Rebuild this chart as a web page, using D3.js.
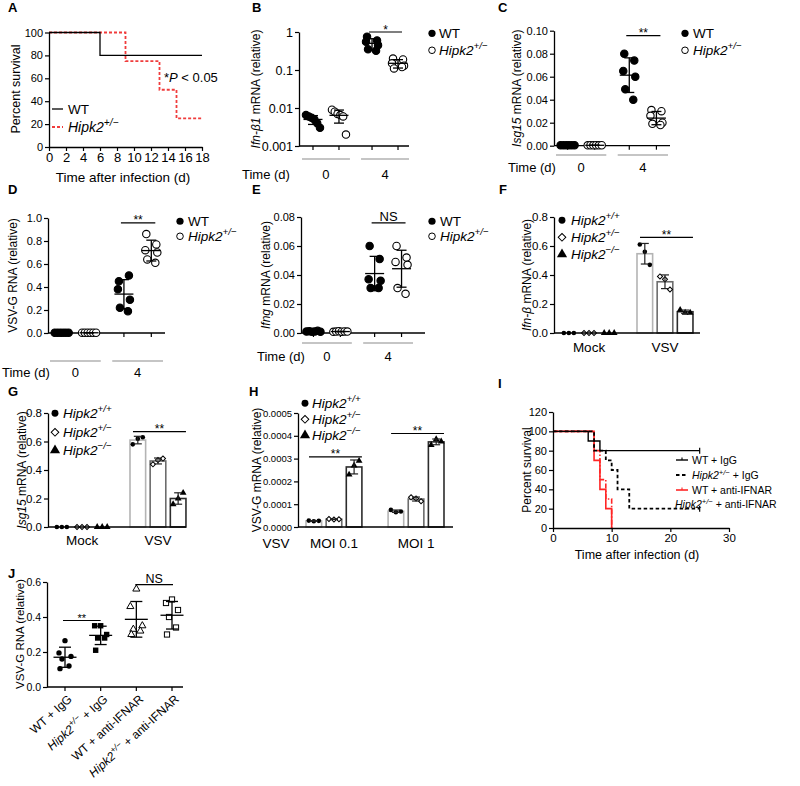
<!DOCTYPE html>
<html><head><meta charset="utf-8">
<script src="https://cdn.jsdelivr.net/npm/d3@7"></script>
<style>
body{margin:0;background:#fff;}
svg text{font-family:"Liberation Sans",Arial,Helvetica,sans-serif;fill:#000;}
</style></head><body>
<svg id="fig" width="800" height="786"></svg>
<script>
// ---------------- DATA ----------------
// Panel A: survival (step points)
const aWT_t = [0, 6, 18];
const aWT_s = [100, 80, 80];
const aHet_t = [0, 9, 13, 15, 18];
const aHet_s = [100, 75, 50, 25, 25];
const aXTicks = [0,2,4,6,8,10,12,14,16,18];
const aYTicks = [0,20,40,60,80,100];

// Shared for B–E
const timeLabels = ["0", "4"];
const genotypes = ["WT", "Hipk2+/−"];

// Panel B: Ifn-β1 mRNA (log)
const bWT_d0 = [0.0065, 0.006, 0.0055, 0.005, 0.004, 0.003];
const bHet_d0 = [0.009, 0.008, 0.007, 0.0065, 0.006, 0.002];
const bWT_d4 = [0.75, 0.6, 0.55, 0.45, 0.35, 0.32];
const bHet_d4 = [0.2, 0.19, 0.15, 0.13, 0.11, 0.12];
const bYTicks = [0.001, 0.01, 0.1, 1];

// Panel C: Isg15 mRNA
const cWT_d0 = [0.0004, 0.0003, 0.0005, 0.0004, 0.0003, 0.0004];
const cHet_d0 = [0.0003, 0.0004, 0.0003, 0.0004, 0.0003, 0.0004];
const cWT_d4 = [0.080, 0.074, 0.065, 0.060, 0.049, 0.040];
const cHet_d4 = [0.031, 0.030, 0.026, 0.020, 0.019, 0.018];
const cYTicks = [0, 0.02, 0.04, 0.06, 0.08, 0.10];

// Panel D: VSV-G RNA
const dWT_d0 = [0.002, 0.002, 0.002, 0.002, 0.002, 0.002];
const dHet_d0 = [0.002, 0.002, 0.002, 0.002, 0.002, 0.002];
const dWT_d4 = [0.45, 0.50, 0.38, 0.29, 0.22, 0.19];
const dHet_d4 = [0.86, 0.77, 0.72, 0.70, 0.64, 0.61];
const dYTicks = [0, 0.2, 0.4, 0.6, 0.8, 1.0];

// Panel E: Ifng mRNA
const eWT_d0 = [0.001, 0.0012, 0.0008, 0.001, 0.0015, 0.0009];
const eHet_d0 = [0.0008, 0.001, 0.0012, 0.0009, 0.0011, 0.001];
const eWT_d4 = [0.060, 0.051, 0.037, 0.036, 0.031, 0.031];
const eHet_d4 = [0.060, 0.052, 0.049, 0.047, 0.031, 0.027];
const eYTicks = [0, 0.02, 0.04, 0.06, 0.08];

// Shared for F–H
const genos3 = ["Hipk2+/+", "Hipk2+/−", "Hipk2−/−"];
const infection = ["Mock", "VSV"];

// Panel F: Ifn-β mRNA
const fMock = [[0,0,0],[0,0,0],[0,0,0]];
const fVSV = [[0.61,0.56,0.47],[0.39,0.37,0.30],[0.16,0.14,0.14]];
const fYTicks = [0, 0.2, 0.4, 0.6, 0.8];

// Panel G: Isg15 mRNA
const gMock = [[0,0,0],[0,0,0],[0,0,0]];
const gVSV = [[0.58,0.62,0.63],[0.44,0.47,0.48],[0.16,0.20,0.24]];
const gYTicks = [0, 0.2, 0.4, 0.6, 0.8];

// Panel H: VSV-G mRNA
const moiLabels = ["MOI 0.1", "MOI 1"];
const hMOI01 = [[0.000028,0.000025,0.000027],[0.000035,0.000033,0.000034],[0.00023,0.00027,0.00029]];
const hMOI1 = [[0.000075,0.000065,0.000068],[0.00013,0.000125,0.000113],[0.00036,0.000385,0.000375]];
const hYTicks = [0, 0.0001, 0.0002, 0.0003, 0.0004, 0.0005];

// Panel I: survival
const iWTIgG_t = [0, 6, 8, 25];         const iWTIgG_s = [100, 90, 80, 80];
const iHetIgG_t = [0, 7, 9, 10, 11, 13, 25]; const iHetIgG_s = [100, 80, 70, 60, 40, 20, 20];
const iWTanti_t = [0, 7, 8, 9, 10];     const iWTanti_s = [100, 70, 40, 20, 0];
const iHetanti_t = [0, 7, 8, 9, 10];    const iHetanti_s = [100, 80, 50, 30, 0];
const iXTicks = [0, 10, 20, 30];
const iYTicks = [0, 20, 40, 60, 80, 100, 120];

// Panel J: VSV-G RNA
const jGroups = ["WT + IgG", "Hipk2+/− + IgG", "WT + anti-IFNAR", "Hipk2+/− + anti-IFNAR"];
const jWTIgG = [0.265, 0.195, 0.175, 0.16, 0.12, 0.105];
const jHetIgG = [0.35, 0.35, 0.30, 0.28, 0.28, 0.21];
const jWTanti = [0.56, 0.46, 0.35, 0.33, 0.32, 0.30];
const jHetanti = [0.50, 0.48, 0.44, 0.40, 0.34, 0.30];
const jYTicks = [0, 0.2, 0.4, 0.6];

// ---------------- HELPERS ----------------
const FF = '"Liberation Sans", Arial, Helvetica, sans-serif';
const svg = d3.select("#fig");
svg.append("rect").attr("width",800).attr("height",786).attr("fill","#fff");

function styleAxis(a, fs) {
  a.attr("font-family", FF);
  a.select(".domain").attr("stroke","#000").attr("stroke-width",1.3);
  a.selectAll(".tick line").attr("stroke","#000").attr("stroke-width",1.2);
  a.selectAll(".tick text").attr("font-size",fs).attr("fill","#000");
}
function yAxis(g, y, x, ticks, fmt, fs) {
  const a = g.append("g").attr("transform",`translate(${x},0)`)
    .call(d3.axisLeft(y).tickValues(ticks).tickFormat(fmt).tickSize(4).tickSizeOuter(0).tickPadding(2));
  styleAxis(a, fs); return a;
}
function rich(sel, parts, fs) {
  let raised = false;
  parts.forEach(p => {
    const t = sel.append("tspan").text(p.t);
    if (p.i) t.attr("font-style","italic");
    if (p.sup) { t.attr("font-size", fs*0.72); if (!raised) { t.attr("dy", -fs*0.42); raised = true; } }
    else if (raised) { t.attr("dy", fs*0.42); raised = false; }
  });
}
function hipkParts(label) {
  const m = label.match(/^Hipk2([+\/−]+)(.*)$/);
  if (!m) return [{t:label}];
  const out = [{t:"Hipk2", i:true}, {t:m[1], sup:true, i:true}];
  if (m[2]) out.push({t:m[2]});
  return out;
}
function yLabel(g, parts, cx, cy, fs) {
  const t = g.append("text").attr("transform",`translate(${cx+fs*0.36},${cy}) rotate(-90)`)
    .attr("text-anchor","middle").attr("font-size",fs);
  rich(t, parts, fs);
}
function letter(txt, x, y) {
  svg.append("text").attr("x",x).attr("y",y).attr("font-size",13).attr("font-weight","bold").text(txt);
}
function hline(g, x1, x2, y, col, w) {
  g.append("line").attr("x1",x1).attr("x2",x2).attr("y1",y).attr("y2",y).attr("stroke",col||"#000").attr("stroke-width",w||1.2);
}
function vline(g, x, y1, y2, col, w) {
  g.append("line").attr("x1",x).attr("x2",x).attr("y1",y1).attr("y2",y2).attr("stroke",col||"#000").attr("stroke-width",w||1.2);
}
function stars(g, x1, x2, y, txt, fs) {
  hline(g, x1, x2, y, "#000", 1.2);
  if (txt === "NS") g.append("text").attr("x",(x1+x2)/2).attr("y",y-2).attr("text-anchor","middle").attr("font-size",fs||13).text("NS");
  else g.append("text").attr("x",(x1+x2)/2).attr("y",y+1.5).attr("text-anchor","middle").attr("font-size",fs||12).text(txt);
}
function errBar(g, cx, y, m, s, meanHalf, capHalf, lowMin) {
  let lo = m - s; if (lowMin !== undefined) lo = Math.max(lo, lowMin);
  const hi = m + s;
  vline(g, cx, y(lo), y(hi), "#000", 1.3);
  hline(g, cx-capHalf, cx+capHalf, y(lo), "#000", 1.3);
  hline(g, cx-capHalf, cx+capHalf, y(hi), "#000", 1.3);
  hline(g, cx-meanHalf, cx+meanHalf, y(m), "#000", 1.3);
}

// ---------------- SURVIVAL PANELS ----------------
function survival(g, x, y, series) {
  const line = d3.line().x(d=>x(d[0])).y(d=>y(d[1])).curve(d3.curveStepAfter);
  series.forEach(s => {
    g.append("path").attr("d", line(d3.zip(s.t, s.s))).attr("fill","none")
      .attr("stroke", s.col).attr("stroke-width", s.w).attr("stroke-dasharray", s.dash || null);
  });
}

// Panel A
(function(){
  const g = svg.append("g");
  const x = d3.scaleLinear().domain([0,18]).range([49,202]);
  const y = d3.scaleLinear().domain([0,100]).range([147,32.5]);
  survival(g, x, y, [
    {t:aHet_t, s:aHet_s, col:"#f03c3c", w:1.8, dash:"3,2"},
    {t:aWT_t, s:aWT_s, col:"#000", w:1.3}
  ]);
  yAxis(g, y, 49, aYTicks, d3.format("d"), 11);
  const ax = g.append("g").attr("transform","translate(0,147)")
    .call(d3.axisBottom(x).tickValues(aXTicks).tickSize(4).tickSizeOuter(0).tickPadding(2));
  styleAxis(ax, 13);
  yLabel(g, [{t:"Percent survival"}], 15, 89, 12.5);
  g.append("text").attr("x",123).attr("y",182).attr("text-anchor","middle").attr("font-size",13.5).text("Time after infection (d)");
  hline(g, 52, 63, 109, "#000", 1.3);
  g.append("text").attr("x",68).attr("y",114).attr("font-size",13.5).text("WT");
  g.append("line").attr("x1",52).attr("x2",63).attr("y1",127).attr("y2",127).attr("stroke","#f03c3c").attr("stroke-width",1.8).attr("stroke-dasharray","3,2");
  rich(g.append("text").attr("x",68).attr("y",132).attr("font-size",14), hipkParts("Hipk2+/−"), 14);
  rich(g.append("text").attr("x",164).attr("y",82).attr("font-size",13), [{t:"*"},{t:"P",i:true},{t:" < 0.05"}], 13);
  letter("A", 8, 12);
})();

// ---------------- SCATTER PANELS ----------------
function legend2(g, cx, tx, ys, fs) {
  g.append("circle").attr("cx",cx).attr("cy",ys[0]-fs*0.35).attr("r",3.6).attr("fill","#000");
  g.append("text").attr("x",tx).attr("y",ys[0]).attr("font-size",fs).text("WT");
  g.append("circle").attr("cx",cx).attr("cy",ys[1]-fs*0.35).attr("r",3.3).attr("fill","#fff").attr("stroke","#000").attr("stroke-width",1);
  rich(g.append("text").attr("x",tx).attr("y",ys[1]).attr("font-size",fs), hipkParts("Hipk2+/−"), fs);
}
function scatterPanel(p) {
  const g = svg.append("g");
  const days = d3.scaleBand().domain(timeLabels).range(p.band).paddingInner(0.12);
  const geno = d3.scalePoint().domain(genotypes).range([0, days.bandwidth()]).padding(0.5);
  const gx = (di, gi) => days(timeLabels[di]) + geno(genotypes[gi]);
  const y = p.y, y0 = y.range()[0];
  yAxis(g, y, p.ax, p.ticks, p.fmt, p.fs);
  hline(g, p.ax, p.axEnd, y0, "#000", 1.3);
  timeLabels.forEach((t,di)=>genotypes.forEach((gn,gi)=> vline(g, gx(di,gi), y0, y0+4, "#000", 1.2)));
  timeLabels.forEach(t=>{
    hline(g, days(t)+2, days(t)+days.bandwidth()-2, p.ulY, "#8c8c8c", 1.2);
    g.append("text").attr("x",days(t)+days.bandwidth()/2).attr("y",p.lblY).attr("text-anchor","middle").attr("font-size",p.lfs).text(t);
  });
  g.append("text").attr("x",p.timeX).attr("y",p.lblY).attr("font-size",p.lfs).text("Time (d)");
  const offs = [[-7,-4.2,-1.4,1.4,4.2,7],[-5,5,-6,6,-4,4]];
  p.data.forEach((dayArr,di)=>dayArr.forEach((vals,gi)=>{
    const cx = gx(di,gi);
    vals.forEach((v,k)=>{
      g.append("circle").attr("cx",cx+offs[di][k]).attr("cy",y(v)).attr("r",3.7)
        .attr("fill", gi===0 ? "#000" : "#fff").attr("stroke","#000").attr("stroke-width",1.1);
    });
    errBar(g, cx, y, d3.mean(vals), d3.deviation(vals), 9.5, 5, y.domain()[0]);
  }));
  stars(g, gx(1,0)-3, gx(1,1)+4, y(p.sig), p.sigTxt);
  legend2(g, p.legCx, p.legTx, p.legY, 13.5);
  yLabel(g, p.ylab, p.ylabX, (y.range()[0]+y.range()[1])/2, 12);
  return g;
}

scatterPanel({
  ax:299, axEnd:409, band:[300,411],
  y: d3.scaleLog().domain([0.001,1]).range([146,32]),
  ticks: bYTicks, fmt: d=>String(d), fs:12.5,
  ulY:159, lblY:179, lfs:13, timeX:242,
  data:[[bWT_d0,bHet_d0],[bWT_d4,bHet_d4]],
  sig:1, sigTxt:"*",
  legCx:432, legTx:439, legY:[38,55],
  ylab:[{t:"Ifn-β1",i:true},{t:" mRNA (relative)"}], ylabX:256
});
letter("B", 252, 12);

scatterPanel({
  ax:554, axEnd:670, band:[554,670],
  y: d3.scaleLinear().domain([0,0.1]).range([145.7,30.7]),
  ticks: cYTicks, fmt: d3.format(".2f"), fs:11,
  ulY:155, lblY:172, lfs:13, timeX:508,
  data:[[cWT_d0,cHet_d0],[cWT_d4,cHet_d4]],
  sig:0.0957, sigTxt:"**",
  legCx:685, legTx:693, legY:[38,55],
  ylab:[{t:"Isg15",i:true},{t:" mRNA (relative)"}], ylabX:517
});
letter("C", 498, 12);

scatterPanel({
  ax:48, axEnd:165, band:[48,165],
  y: d3.scaleLinear().domain([0,1]).range([333,218]),
  ticks: dYTicks, fmt: d3.format(".1f"), fs:11,
  ulY:361, lblY:377, lfs:13, timeX:2,
  data:[[dWT_d0,dHet_d0],[dWT_d4,dHet_d4]],
  sig:0.957, sigTxt:"**",
  legCx:180, legTx:188, legY:[226,241],
  ylab:[{t:"VSV-G RNA (relative)"}], ylabX:13
});
letter("D", 8, 194);

scatterPanel({
  ax:301, axEnd:425, band:[300,415],
  y: d3.scaleLinear().domain([0,0.08]).range([333,217]),
  ticks: eYTicks, fmt: d3.format(".2f"), fs:11,
  ulY:343, lblY:361, lfs:13, timeX:257,
  data:[[eWT_d0,eHet_d0],[eWT_d4,eHet_d4]],
  sig:0.076, sigTxt:"NS",
  legCx:432, legTx:440, legY:[226,241],
  ylab:[{t:"Ifng",i:true},{t:" mRNA (relative)"}], ylabX:266
});
letter("E", 252, 194);

// ---------------- BAR PANELS ----------------
const barStroke = ["#b4b4b4", "#6c6c6c", "#2c2c2c"];
function marker(g, gi, x, y, big) {
  const k = big ? 1.5 : 1;
  if (gi === 0) g.append("circle").attr("cx",x).attr("cy",y).attr("r",2.3*k).attr("fill","#000");
  else if (gi === 1) g.append("path").attr("d", d3.symbol().type(d3.symbolSquare).size(13*k*k)())
      .attr("transform",`translate(${x},${y}) rotate(45)`).attr("fill","#fff").attr("stroke","#000").attr("stroke-width",1);
  else g.append("path").attr("d", d3.symbol().type(d3.symbolTriangle).size(20*k*k)())
      .attr("transform",`translate(${x},${y})`).attr("fill","#000");
}
function legend3(g, mx, tx, ys, fs) {
  genos3.forEach((gn,gi)=>{
    marker(g, gi, mx, ys[gi]-fs*0.35, true);
    rich(g.append("text").attr("x",tx).attr("y",ys[gi]).attr("font-size",fs), hipkParts(gn), fs);
  });
}
function barPanel(p) {
  const g = svg.append("g");
  const cats = d3.scaleBand().domain(p.cats).range(p.band).paddingInner(p.pi).paddingOuter(p.po);
  const inner = d3.scaleBand().domain(genos3).range([0, cats.bandwidth()]).paddingInner(0.225).paddingOuter(0.1);
  const y = p.y, y0 = y(0);
  yAxis(g, y, p.ax, p.ticks, p.fmt, p.fs);
  const offs = [-5, 0, 5];
  p.cats.forEach((c,ci)=>genos3.forEach((gn,gi)=>{
    const vals = p.data[ci][gi];
    const m = d3.mean(vals), s = d3.deviation(vals);
    const bx = cats(c) + inner(gn), bw = inner.bandwidth(), cx = bx + bw/2;
    if (m > 0) g.append("rect").attr("x",bx).attr("y",y(m)).attr("width",bw).attr("height",y0-y(m))
      .attr("fill","#fff").attr("stroke",barStroke[gi]).attr("stroke-width",1.6);
    vals.forEach((v,k)=> marker(g, gi, cx+offs[k], y(v), false));
    if (s > 0) {
      vline(g, cx, y(m-s), y(m+s), "#222", 1.2);
      hline(g, cx-4, cx+4, y(m+s), "#222", 1.2);
      hline(g, cx-4, cx+4, y(m-s), "#222", 1.2);
    }
  }));
  hline(g, p.ax, p.axEnd, y0, "#000", 1.3);
  p.cats.forEach(c => g.append("text").attr("x",cats(c)+cats.bandwidth()/2).attr("y",p.lblY)
    .attr("text-anchor","middle").attr("font-size",p.lfs).text(c));
  p.sigs.forEach(sg => {
    const c = p.cats[sg.ci];
    stars(g, cats(c)+inner(genos3[0])+3, cats(c)+inner(genos3[2])+inner.bandwidth(), y(sg.v), "**");
  });
  legend3(g, p.legMx, p.legTx, p.legY, 13.5);
  yLabel(g, p.ylab, p.ylabX, (y.range()[0]+y.range()[1])/2, 12);
  return g;
}

barPanel({
  cats: infection, band:[554,700], pi:0.21, po:0.066, ax:554, axEnd:700,
  y: d3.scaleLinear().domain([0,0.8]).range([333,217]),
  ticks: fYTicks, fmt: d3.format(".1f"), fs:11.5,
  data:[fMock, fVSV], lblY:352, lfs:13.5,
  sigs:[{ci:1, v:0.66}],
  legMx:562, legTx:571, legY:[225,242,259],
  ylab:[{t:"Ifn-β",i:true},{t:" mRNA (relative)"}], ylabX:527
});
letter("F", 499, 194);

barPanel({
  cats: infection, band:[48,192], pi:0.21, po:0.053, ax:48, axEnd:186,
  y: d3.scaleLinear().domain([0,0.8]).range([527,413]),
  ticks: gYTicks, fmt: d3.format(".1f"), fs:11.5,
  data:[gMock, gVSV], lblY:545, lfs:13.5,
  sigs:[{ci:1, v:0.67}],
  legMx:55, legTx:63, legY:[418,437,455],
  ylab:[{t:"Isg15",i:true},{t:" mRNA (relative)"}], ylabX:22
});
letter("G", 8, 396);

(function(){
  const g = barPanel({
    cats: moiLabels, band:[298,452], pi:0.27, po:0.073, ax:298, axEnd:453,
    y: d3.scaleLinear().domain([0,0.0005]).range([527,413]),
    ticks: hYTicks, fmt: d3.format(".4f"), fs:9.5,
    data:[hMOI01, hMOI1], lblY:548, lfs:13.5,
    sigs:[{ci:0, v:0.000308},{ci:1, v:0.00041}],
    legMx:305, legTx:312, legY:[408,424,440],
    ylab:[{t:"VSV-G mRNA (relative)"}], ylabX:257
  });
  g.append("text").attr("x",276).attr("y",548).attr("text-anchor","middle").attr("font-size",13.5).text("VSV");
})();
letter("H", 249, 396);

// Panel I
(function(){
  const g = svg.append("g");
  const x = d3.scaleLinear().domain([0,30]).range([553,729]);
  const y = d3.scaleLinear().domain([0,120]).range([528,412]);
  const red = "#ff2626";
  const ser = [
    {t:iWTanti_t, s:iWTanti_s, col:red, w:1.6},
    {t:iHetanti_t, s:iHetanti_s, col:red, w:1.6, dash:"5,2,1.5,2"},
    {t:iHetIgG_t, s:iHetIgG_s, col:"#000", w:1.8, dash:"3.5,2.5"},
    {t:iWTIgG_t, s:iWTIgG_s, col:"#000", w:1.4}
  ];
  survival(g, x, y, ser);
  vline(g, x(25), y(80)-3, y(80)+3, "#000", 1.2);
  vline(g, x(25), y(20)-3, y(20)+3, "#000", 1.2);
  yAxis(g, y, 553, iYTicks, d3.format("d"), 11);
  const ax = g.append("g").attr("transform","translate(0,528)")
    .call(d3.axisBottom(x).tickValues(iXTicks).tickSize(4).tickSizeOuter(0).tickPadding(2));
  styleAxis(ax, 11.5);
  yLabel(g, [{t:"Percent survival"}], 527, 470, 12);
  g.append("text").attr("x",637).attr("y",559).attr("text-anchor","middle").attr("font-size",12.5).text("Time after infection (d)");
  const lys = [464, 479, 494, 508];
  const fs = 10.5;
  const rows = [
    {lbl:"WT + IgG", col:"#000", w:1.4, dash:null, tick:true, tx:692},
    {lbl:"Hipk2+/− + IgG", col:"#000", w:1.8, dash:"3.5,2.5", tick:false, tx:692},
    {lbl:"WT + anti-IFNAR", col:red, w:1.6, dash:null, tick:true, tx:692},
    {lbl:"Hipk2+/− + anti-IFNAR", col:red, w:1.6, dash:"5,2,1.5,2", tick:false, tx:675, noline:true}
  ];
  rows.forEach((r,i)=>{
    const ly = lys[i] - 4;
    if (!r.noline) {
      g.append("line").attr("x1",676).attr("x2",688).attr("y1",ly).attr("y2",ly)
        .attr("stroke",r.col).attr("stroke-width",r.w).attr("stroke-dasharray",r.dash);
      if (r.tick) vline(g, 682, ly-2.5, ly, r.col, 1.1);
    }
    rich(g.append("text").attr("x",r.tx).attr("y",lys[i]).attr("font-size",fs), hipkParts(r.lbl), fs);
  });
  letter("I", 498, 388);
})();

// Panel J
(function(){
  const g = svg.append("g");
  const x = d3.scalePoint().domain(jGroups).range([65,172]);
  const y = d3.scaleLinear().domain([0,0.6]).range([687,582]);
  yAxis(g, y, 47, jYTicks, d3.format(".1f"), 10.5);
  hline(g, 47, 183, 687, "#000", 1.3);
  jGroups.forEach(gn => vline(g, x(gn), 687, 691, "#000", 1.2));
  const data = [jWTIgG, jHetIgG, jWTanti, jHetanti];
  const offs = [0, -6, 6, -3, 4, -5];
  data.forEach((vals, gi) => {
    const cx = x(jGroups[gi]);
    vals.forEach((v,k) => {
      const px = cx + offs[k], py = y(v);
      if (gi === 0) g.append("circle").attr("cx",px).attr("cy",py).attr("r",2.7).attr("fill","#000");
      else if (gi === 1) g.append("rect").attr("x",px-2.7).attr("y",py-2.7).attr("width",5.4).attr("height",5.4).attr("fill","#000");
      else if (gi === 2) g.append("path").attr("d", d3.symbol().type(d3.symbolTriangle).size(22)()).attr("transform",`translate(${px},${py})`)
        .attr("fill","#fff").attr("stroke","#000").attr("stroke-width",1);
      else g.append("rect").attr("x",px-2.6).attr("y",py-2.6).attr("width",5.2).attr("height",5.2)
        .attr("fill","#fff").attr("stroke","#000").attr("stroke-width",1);
    });
    errBar(g, cx, y, d3.mean(vals), d3.deviation(vals), 11.5, 6);
  });
  stars(g, x(jGroups[0])-2, x(jGroups[1]), y(0.38), "**", 11);
  stars(g, x(jGroups[2])-1, x(jGroups[3])+1, y(0.585), "NS", 12.5);
  jGroups.forEach(gn => {
    const t = g.append("text").attr("transform",`translate(${x(gn)+5},${697}) rotate(-42)`)
      .attr("text-anchor","end").attr("font-size",12).attr("dy","0.35em");
    rich(t, hipkParts(gn), 12);
  });
  yLabel(g, [{t:"VSV-G RNA (relative)"}], 20, 634, 11.5);
  letter("J", 8, 578);
})();
</script>
</body></html>
